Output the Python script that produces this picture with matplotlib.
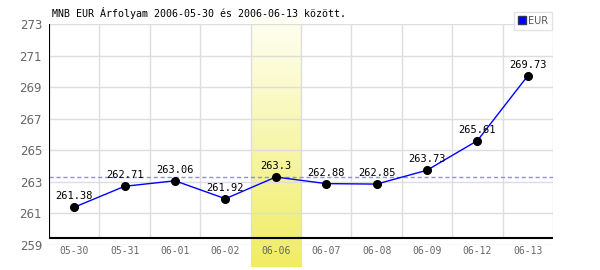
import matplotlib
matplotlib.use("Agg")
import matplotlib.pyplot as plt
import numpy as np
from matplotlib.lines import Line2D

# data
dates = ['05-30', '05-31', '06-01', '06-02', '06-06', '06-07', '06-08', '06-09', '06-12', '06-13']
rates = [261.38, 262.71, 263.06, 261.92, 263.3, 262.88, 262.85, 263.73, 265.61, 269.73]
yticks = [259, 261, 263, 265, 267, 269, 271, 273]
highlight = 4          # 06-06
ref_level = 263.3      # dashed reference line
title = "MNB EUR Árfolyam 2006-05-30 és 2006-06-13 között."

mono = "DejaVu Sans Mono"
grid_c = "#dddddd"

fig = plt.figure(figsize=(6, 2.7), dpi=100)
W, H = 600, 270
left, right = 49 / W, 553 / W
bottom, top = (H - 244.7) / H, (H - 24.3) / H
ax = fig.add_axes([left, bottom, right - left, top - bottom])
ax.patch.set_alpha(0)
ax.set_zorder(2)

# yellow gradient band behind the highlighted day
x = np.arange(len(dates))
band_w = (right - left) / len(dates)
bax = fig.add_axes([left + highlight * band_w, 3 / H, band_w, (H - 20) / H])
bax.set_zorder(1)
grad = np.linspace(0, 1, 256).reshape(-1, 1)
c_top = np.array([1.0, 1.0, 0.96])
c_bot = np.array([0.94, 0.93, 0.38])
img = c_top + (c_bot - c_top) * grad[:, :, None]
bax.imshow(img, aspect="auto", extent=(0, 1, 0, 1), origin="upper")
bax.axis("off")

ax.set_xlim(-0.5, len(dates) - 0.5)
ax.set_ylim(259, 273)
axis_y = 259.44

for s in ax.spines.values():
    s.set_visible(False)

ax.set_yticks(yticks)
ax.set_yticklabels([str(v) for v in yticks], color="#666666", fontsize=8.5)
ax.set_xticks(x)
ax.set_xticklabels(dates, color="#666666", fontsize=7, family=mono)
ax.tick_params(length=0)
ax.tick_params(axis="y", pad=5)
ax.tick_params(axis="x", pad=1)

ax.grid(axis="y", color=grid_c, lw=1)
ax.set_axisbelow(True)
ax.vlines(np.arange(len(dates) + 1) - 0.5, axis_y, 273, color=grid_c, lw=1, zorder=0)

ax.vlines(-0.5, axis_y, 273, color="black", lw=1.5, zorder=3)
ax.axhline(axis_y, color="black", lw=1.5, zorder=3)

ax.axhline(ref_level, color="#8c8cff", lw=1, ls=(0, (3, 2)), zorder=2)

ax.plot(x, rates, color="#0000ff", lw=1, zorder=4, label="EUR")
ax.plot(x, rates, ls="none", marker="o", ms=5.5, color="black", zorder=5)

for xi, v in zip(x, rates):
    ax.annotate(f"{v:g}", (xi, v), xytext=(0, 6), textcoords="offset pixels",
                ha="center", va="bottom", fontsize=7.5, family=mono, zorder=6)

fig.text(52 / W, 1 - 13 / H, title, fontsize=7.2, family=mono, va="center")

h = Line2D([], [], ls="none", marker="s", ms=6, mfc="#0000ff", mec="#333366")
leg = fig.legend([h], ["EUR"], loc="upper right", bbox_to_anchor=(552 / W, 1 - 12 / H),
                 fontsize=7, frameon=True, fancybox=False, handlelength=0.7,
                 handletextpad=0.3, borderpad=0.4, borderaxespad=0)
leg.get_frame().set_edgecolor(grid_c)
for t in leg.get_texts():
    t.set_color("#555555")

fig.savefig("out.png", dpi=100)
